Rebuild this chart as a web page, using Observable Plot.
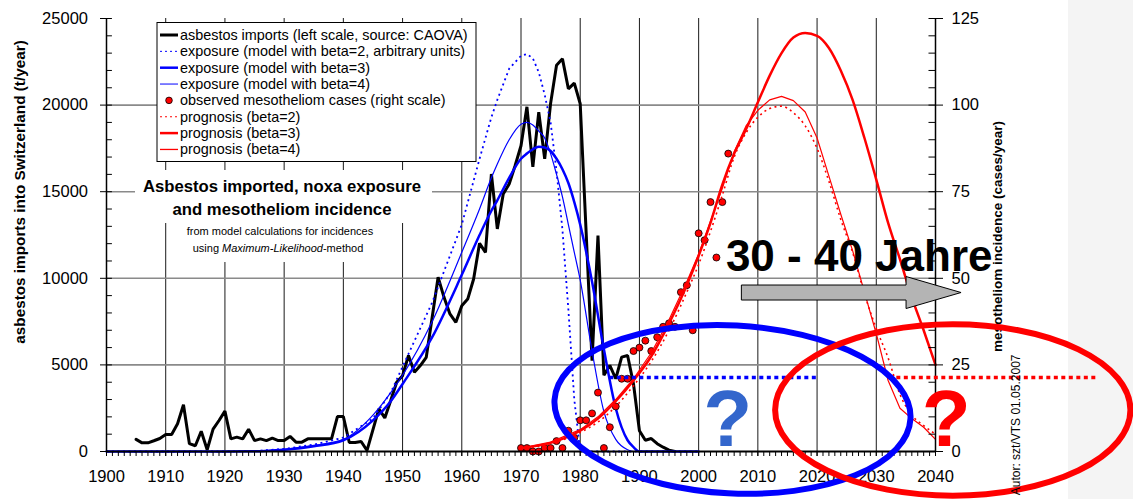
<!DOCTYPE html>
<html><head><meta charset="utf-8">
<script src="https://cdn.jsdelivr.net/npm/d3@7"></script>
<script src="https://cdn.jsdelivr.net/npm/@observablehq/plot@0.6"></script>
<style>
html,body{margin:0;padding:0;background:#fff;}
#chart{width:1133px;height:499px;overflow:hidden;position:relative;}
</style></head><body><div id="chart"></div>
<script>
// ---------- DATA ----------
const importYears = [1905,1906,1907,1908,1909,1910,1911,1912,1913,1914,1915,1916,1917,1918,1919,1920,1921,1922,1923,1924,1925,1926,1927,1928,1929,1930,1931,1932,1933,1934,1935,1936,1937,1938,1939,1940,1941,1942,1943,1944,1946,1947,1948,1949,1950,1951,1952,1953,1954,1955,1956,1957,1958,1959,1960,1961,1962,1963,1964,1965,1966,1967,1968,1969,1970,1971,1972,1973,1974,1975,1976,1977,1978,1979,1980,1982,1983,1984,1985,1986,1987,1988,1989,1990,1991,1992,1993,1994,1995,1996];
const importTons  = [700,500,500,620,750,980,980,1600,2700,450,330,1170,100,1290,1790,2330,730,830,730,1290,630,730,630,770,630,630,870,540,540,730,730,730,730,730,2020,2020,520,520,580,60,2460,1940,2950,4000,4380,5540,4580,4960,5440,7750,10060,8900,7940,7460,8420,8800,9960,12020,11500,16020,12850,14870,15440,16500,17650,19900,16430,19590,16900,20100,22300,22670,20940,21270,20080,5250,12470,4400,4970,4200,5450,5540,3900,1200,650,750,450,250,80,0];

const exposureYears = [1900,1920,1925,1930,1935,1940,1945,1948,1950,1955,1960,1963,1965,1966,1968,1970,1971,1972,1973,1974,1975,1976,1977,1978,1979,1980,1982,1984,1986,1988,1989,1990,2000];
const exposureBeta2 = [0,0,30,150,400,800,1900,3400,4900,8600,13100,16900,19300,20300,22100,22850,22950,22700,21900,20600,19000,16200,12800,8200,3000,0,0,0,0,0,0,0,0];
const exposureBeta3 = [0,0,10,100,300,650,1800,2900,3900,6600,10200,12500,13900,14500,15800,16900,17200,17450,17600,17550,17350,16900,16300,15500,14400,13100,9800,5900,2500,650,250,0,0];
const exposureBeta4 = [0,0,15,120,350,700,2100,3400,4400,7500,11500,14000,15800,16600,18000,18900,19000,18850,18500,18100,17200,16000,14700,13100,11500,9900,5800,2300,700,100,0,0,0];

const caseYears = [1970,1971,1972,1973,1974,1975,1976,1977,1978,1979,1980,1981,1982,1983,1984,1985,1986,1987,1988,1989,1990,1991,1992,1993,1994,1995,1996,1997,1998,1999,2000,2001,2002,2003,2004,2005];
const casesObserved = [1,1,0,0,1,1,3,1,6,4,9,9,11,17,1,7,13,21,21,29,30,32,29,33,36,37,36,46,48,35,63,61,72,56,72,86];

const prognosisYears = [1970,1975,1980,1983,1986,1989,1992,1995,1998,2000,2002,2004,2006,2008,2010,2012,2014,2016,2018,2020,2022,2024,2026,2028,2030,2032,2034,2036,2038,2040];
const prognosisBeta2 = [0.8,2.3,5.5,8.5,13,19,26,35,46,54,63.5,74,85,92,96.5,99,99.7,97.8,94,87.5,78,67,57.5,45.5,35.5,27,16.5,10.5,7.5,5];
const prognosisBeta3 = [1,2.5,6,9.5,14.5,20.5,27.5,37,48,56.5,66,77,86,93,100.8,108.5,115,119.5,120.8,120,116.5,110,101.5,90.5,78.5,66,55.5,44.5,35,25];
const prognosisBeta4 = [1,2.7,6.3,10,15,21,28.5,38,49,57,66.5,76,86.5,94,98.5,101.5,102.5,101.3,98,90.5,79.5,68.5,58,46,34,20.5,12.5,9.5,7,3.5];

const leftTicks = [0,5000,10000,15000,20000,25000];
const rightTicks = [0,25,50,75,100,125];
const yearLabels = [1900,1910,1920,1930,1940,1950,1960,1970,1980,1990,2000,2010,2020,2030,2040];

const legendLabels = [
  "asbestos imports (left scale, source: CAOVA)",
  "exposure (model with beta=2, arbitrary units)",
  "exposure (model with beta=3)",
  "exposure (model with beta=4)",
  "observed mesotheliom cases (right scale)",
  "prognosis (beta=2)",
  "prognosis (beta=3)",
  "prognosis (beta=4)"
];
const titleLines = ["Asbestos imported, noxa exposure", "and mesotheliom incidence"];
const subtitleLine1 = "from model calculations for incidences";
const subtitleLine2 = ["using ", "Maximum-Likelihood", "-method"];
const leftTitle = "asbestos imports into Switzerland (t/year)";
const rightTitle = "mesotheliom incidence (cases/year)";
const authorNote = "Autor: szt/VTS 01.05.2007";
const bigLabel = "30 - 40 Jahre";

// annotations in data units (year, tons)
const blueEllipse = {cx: 2005.8, cy: 2400, rx: 30.1, ry: 4850};
const redEllipse  = {cx: 2043.0, cy: 2370, rx: 30.0, ry: 4950};
const latencyArrow = {x1: 2007.3, x2: 2044.4, y: 9150};
const guideBlue = {x1: 1985.0, x2: 2020.4, y: 4270};
const guideRed  = {x1: 2032.2, x2: 2067.6, y: 4270};
const bigLabelPos = {x: 2004.6, y: 10450};
const qBlue = {x: 2004.9, y: 346};
const qRed  = {x: 2041.8, y: 346};
const authorPos = {x: 2053.6, y: 5600};

// ---------- TABLES ----------
const RIGHT = 200; // 125 cases <-> 25000 t
const imports = importYears.map((x, i) => ({x, y: importTons[i]}));
const expo = (vals) => exposureYears.map((x, i) => ({x, y: vals[i]}));
const prog = (vals) => prognosisYears.map((x, i) => ({x, y: vals[i] * RIGHT}));
const observed = caseYears.map((x, i) => ({x, y: casesObserved[i] * RIGHT}));

const FONT = "'Liberation Sans', Arial, sans-serif";
const BLUE = "#0000ff", RED = "#ff0000";

// ---------- custom marks ----------
function backgroundPanel(index, scales, values, dims) {
  const g = d3.create("svg:g");
  g.append("rect").attr("x", 1068).attr("y", 0).attr("width", dims.width - 1068).attr("height", dims.height).attr("fill", "#f4f4f4");
  return g.node();
}

function legendAndTitle(index, scales, values, dims) {
  const L = dims.marginLeft, T = dims.marginTop;
  const g = d3.create("svg:g").attr("font-family", FONT);
  // title boxes
  g.append("rect").attr("x", L + 29).attr("y", T + 152).attr("width", 297).attr("height", 53).attr("fill", "#fff");
  g.append("rect").attr("x", L + 62).attr("y", T + 204).attr("width", 231).attr("height", 40).attr("fill", "#fff");
  titleLines.forEach((t, i) => {
    g.append("text").attr("x", L + 176).attr("y", T + 174 + i * 23).attr("text-anchor", "middle")
      .attr("font-size", 16.7).attr("font-weight", "bold").attr("fill", "#000").text(t);
  });
  g.append("text").attr("x", L + 174).attr("y", T + 217).attr("text-anchor", "middle").attr("font-size", 11).text(subtitleLine1);
  const t2 = g.append("text").attr("x", L + 172).attr("y", T + 234).attr("text-anchor", "middle").attr("font-size", 11);
  t2.append("tspan").text(subtitleLine2[0]);
  t2.append("tspan").attr("font-style", "italic").text(subtitleLine2[1]);
  t2.append("tspan").text(subtitleLine2[2]);

  // legend
  const bx = L + 51, by = T + 4.5;
  g.append("rect").attr("x", bx).attr("y", by).attr("width", 319).attr("height", 139).attr("fill", "#fff").attr("stroke", "#000").attr("stroke-width", 1);
  const styles = [
    {stroke: "#000", w: 3},
    {stroke: BLUE, w: 1, dash: "2,3"},
    {stroke: BLUE, w: 2.5},
    {stroke: "#3c3cff", w: 1.3},
    {dot: true},
    {stroke: RED, w: 1, dash: "2,3"},
    {stroke: RED, w: 2.5},
    {stroke: RED, w: 1.3}
  ];
  legendLabels.forEach((lab, i) => {
    const yy = T + 17 + i * 16.35;
    const s = styles[i];
    if (s.dot) {
      g.append("circle").attr("cx", L + 63).attr("cy", yy).attr("r", 3.3).attr("fill", RED).attr("stroke", "#000").attr("stroke-width", 0.8);
    } else {
      g.append("line").attr("x1", L + 54).attr("x2", L + 72).attr("y1", yy).attr("y2", yy)
        .attr("stroke", s.stroke).attr("stroke-width", s.w).attr("stroke-dasharray", s.dash || null);
    }
    g.append("text").attr("x", L + 74).attr("y", yy + 5).attr("text-anchor", "start").attr("font-size", 14.4).attr("fill", "#000").text(lab);
  });
  return g.node();
}

function ellipseMark(spec, color, width, rot) {
  return (index, {x, y}) => {
    const cx = x(spec.cx), cy = y(spec.cy);
    const rx = x(spec.cx + spec.rx) - cx, ry = cy - y(spec.cy + spec.ry);
    return d3.create("svg:ellipse").attr("cx", cx).attr("cy", cy).attr("rx", rx).attr("ry", ry)
      .attr("fill", "none").attr("stroke", color).attr("stroke-width", width)
      .attr("transform", `rotate(${rot} ${cx} ${cy})`).node();
  };
}

function arrowMark(spec) {
  return (index, {x, y}) => {
    const x1 = x(spec.x1), x2 = x(spec.x2), yc = y(spec.y);
    const hb = 7.5, hh = 16, hl = 55;
    const pts = [[x1, yc - hb], [x2 - hl, yc - hb], [x2 - hl, yc - hh], [x2, yc], [x2 - hl, yc + hh], [x2 - hl, yc + hb], [x1, yc + hb]];
    return d3.create("svg:polygon").attr("points", pts.map(p => p.join(",")).join(" "))
      .attr("fill", "#b4b4b4").attr("stroke", "#000").attr("stroke-width", 1).node();
  };
}

// ---------- PLOT ----------
const chart = Plot.plot({
  width: 1133,
  height: 499,
  marginLeft: 106,
  marginRight: 198,
  marginTop: 18,
  marginBottom: 48,
  style: {fontFamily: FONT, fontSize: "16.5px", background: "transparent", overflow: "visible", color: "#000"},
  x: {domain: [1900, 2040]},
  y: {domain: [0, 25000]},
  marks: [
    backgroundPanel,
    // grid
    Plot.ruleX(yearLabels.filter(d => d > 1900 && d < 2040), {stroke: "#1a1a1a", strokeWidth: 1}),
    Plot.ruleY(leftTicks.filter(d => d > 0 && d < 25000), {stroke: "#8a8a8a", strokeWidth: 1.6}),
    legendAndTitle,
    // data
    Plot.line(imports, {x: "x", y: "y", stroke: "#000", strokeWidth: 3, strokeLinejoin: "miter"}),
    Plot.line(expo(exposureBeta2), {x: "x", y: "y", stroke: BLUE, strokeWidth: 1.8, strokeDasharray: "2,3.5", strokeLinecap: "butt"}),
    Plot.line(expo(exposureBeta3), {x: "x", y: "y", stroke: BLUE, strokeWidth: 2.5, curve: "monotone-x"}),
    Plot.line(expo(exposureBeta4), {x: "x", y: "y", stroke: BLUE, strokeWidth: 1.2, curve: "monotone-x"}),
    Plot.dot(observed, {x: "x", y: "y", r: 3.5, fill: RED, stroke: "#000", strokeWidth: 0.8}),
    Plot.line(prog(prognosisBeta2), {x: "x", y: "y", stroke: RED, strokeWidth: 1.6, strokeDasharray: "2,3.5", strokeLinecap: "butt", curve: "monotone-x"}),
    Plot.line(prog(prognosisBeta3), {x: "x", y: "y", stroke: RED, strokeWidth: 2.5, curve: "monotone-x"}),
    Plot.line(prog(prognosisBeta4), {x: "x", y: "y", stroke: RED, strokeWidth: 1.2}),
    // axes
    Plot.ruleX([1900], {stroke: "#000", strokeWidth: 1.5}),
    Plot.ruleX([2040], {stroke: "#000", strokeWidth: 1.5}),
    Plot.ruleY([0], {stroke: "#000", strokeWidth: 1.8}),
    Plot.ruleY(d3.range(0, 25001, 1000), {x1: 1900, x2: 1901, stroke: "#000", strokeWidth: 1}),
    Plot.ruleY(d3.range(0, 25001, 1000), {x1: 2038.9, x2: 2040, stroke: "#000", strokeWidth: 1}),
    Plot.axisX({ticks: d3.range(1900, 2041, 1), tickSize: 5, tickFormat: () => "", strokeWidth: 1}),
    Plot.axisX({ticks: yearLabels, tickSize: 5, tickPadding: 14, tickFormat: d => String(d), label: null, fontSize: 16.5}),
    Plot.axisY({ticks: leftTicks, tickSize: 6, tickPadding: 12.5, tickFormat: d => String(d), label: null, fontSize: 16.5}),
    Plot.axisY({anchor: "right", ticks: leftTicks, tickSize: 7, tickPadding: 9, tickFormat: d => String(d / RIGHT), label: null, fontSize: 16.5}),
    Plot.text([leftTitle], {frameAnchor: "left", dx: -86, dy: -43, rotate: -90, fontSize: 15.3, fontWeight: "bold", textAnchor: "middle", lineAnchor: "middle"}),
    Plot.text([rightTitle], {frameAnchor: "right", dx: 62, dy: 1.5, rotate: -90, fontSize: 13.5, fontWeight: "bold", textAnchor: "middle", lineAnchor: "middle"}),
    // annotations
    Plot.ruleY([guideBlue], {x1: "x1", x2: "x2", y: "y", stroke: BLUE, strokeWidth: 3.5, strokeDasharray: "4,3.5"}),
    Plot.ruleY([guideRed], {x1: "x1", x2: "x2", y: "y", stroke: RED, strokeWidth: 3.5, strokeDasharray: "4,3.5"}),
    arrowMark(latencyArrow),
    Plot.text([bigLabelPos], {x: "x", y: "y", text: () => bigLabel, textAnchor: "start", lineAnchor: "bottom", fontSize: 44, fontWeight: "bold", fill: "#000"}),
    ellipseMark(blueEllipse, BLUE, 6, 3),
    ellipseMark(redEllipse, RED, 6, 0),
    Plot.text([qBlue], {x: "x", y: "y", text: () => "?", textAnchor: "middle", lineAnchor: "bottom", fontSize: 80, fontWeight: "bold", fill: "#3366cc"}),
    Plot.text([qRed], {x: "x", y: "y", text: () => "?", textAnchor: "middle", lineAnchor: "bottom", fontSize: 80, fontWeight: "bold", fill: RED}),
    Plot.text([authorPos], {x: "x", y: "y", text: () => authorNote, rotate: -90, textAnchor: "end", lineAnchor: "middle", fontSize: 12, fill: "#000"})
  ]
});
document.getElementById("chart").appendChild(chart);
</script>
</body></html>
